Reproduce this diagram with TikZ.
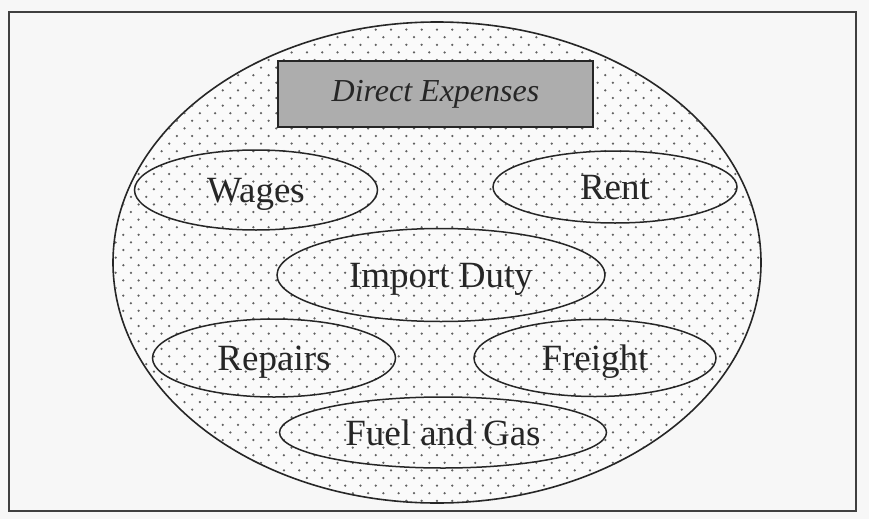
\documentclass[tikz,border=0pt]{standalone}
\usepackage{fontspec}
\setmainfont{Liberation Serif}
\usetikzlibrary{shapes.geometric}
\begin{document}
\begin{tikzpicture}[x=1pt,y=-1pt,
  item/.style={draw=black!85, line width=1.5pt, ellipse, inner sep=0pt,
    font=\fontsize{37}{42}\selectfont, text=black!85,
    text height=25pt, text depth=0pt},
  dotmark/.style={fill=black!62}]
\useasboundingbox (0,0) rectangle (869,519);
\fill[black!3] (0,0) rectangle (869,519);
\node[draw=black!75, line width=2pt, minimum width=847pt, minimum height=499pt, inner sep=0pt] (frame) at (432.5,261.5) {};
% big ellipse
\node[ellipse, draw=black!85, line width=1.6pt, fill=white!98!black, minimum width=648pt, minimum height=481pt, inner sep=0pt] (outer) at (437,262.5) {};
\begin{scope}
\clip (437,262.5) ellipse [x radius=323, y radius=240];
\foreach \r in {0,...,64} {
  \pgfmathsetmacro{\yy}{22+\r*7.6}
  \pgfmathsetmacro{\off}{mod(\r,2)*7.65}
  \foreach \c in {0,...,43} {
    \fill[dotmark] ({108+\off+\c*15.3},\yy) circle (1.25pt);
  }
}
\end{scope}
\node[draw=black!85, line width=1.5pt, fill=black!32, minimum width=315pt, minimum height=66pt, inner sep=0pt,
  font=\fontsize{32}{36}\selectfont\itshape, text=black!85] (title) at (435.5,94) {Direct Expenses};
\node[item, minimum width=243pt, minimum height=80pt] (wages) at (256,190) {Wages};
\node[item, minimum width=244pt, minimum height=72pt] (rent) at (615,187) {Rent};
\node[item, minimum width=328pt, minimum height=93pt] (duty) at (441,275) {Import Duty};
\node[item, minimum width=243pt, minimum height=78pt] (repairs) at (274,358) {Repairs};
\node[item, minimum width=242pt, minimum height=77pt] (freight) at (595,358) {Freight};
\node[item, minimum width=327pt, minimum height=71pt] (fuel) at (443,432.5) {Fuel and Gas};
\end{tikzpicture}
\end{document}
